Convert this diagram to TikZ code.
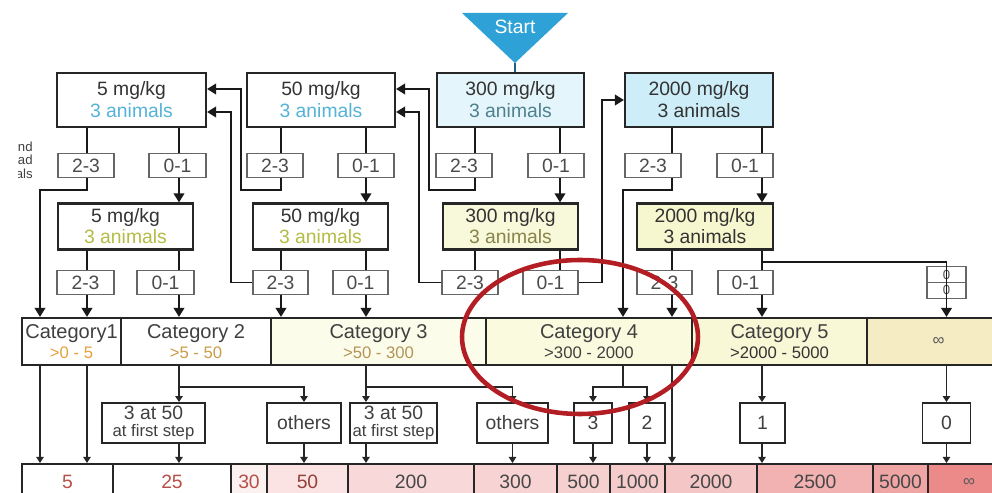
\documentclass[tikz,border=0pt]{standalone}
\usepackage{fontspec}
\setmainfont{Liberation Sans}
\usetikzlibrary{arrows.meta,shapes.multipart}
\definecolor{startblue}{HTML}{2EA2D6}
\definecolor{animblue}{HTML}{55B3D6}
\definecolor{animteal}{HTML}{4E808E}
\definecolor{animolive}{HTML}{B3BD45}
\definecolor{animkhaki}{HTML}{86854A}
\definecolor{lvlcyan}{HTML}{E4F6FB}
\definecolor{lvlblue}{HTML}{CDEDF8}
\definecolor{lvlcream}{HTML}{F8F8DB}
\definecolor{lvlyellow}{HTML}{F7F7CF}
\definecolor{catA}{HTML}{FCFCEA}
\definecolor{catB}{HTML}{FAFADF}
\definecolor{catC}{HTML}{F8F7D6}
\definecolor{catD}{HTML}{F6ECC3}
\definecolor{rngA}{HTML}{E3A23C}
\definecolor{rngB}{HTML}{C99C48}
\definecolor{rngC}{HTML}{B39458}
\definecolor{ldtext}{HTML}{B8504A}
\definecolor{ldA}{HTML}{FCF1F1}
\definecolor{ldB}{HTML}{FBE3E3}
\definecolor{ldC}{HTML}{F8D8D8}
\definecolor{ldD}{HTML}{F7D3D3}
\definecolor{ldE}{HTML}{F6CFCF}
\definecolor{ldF}{HTML}{F5CBCB}
\definecolor{ldG}{HTML}{F5C6C6}
\definecolor{ldH}{HTML}{F2B2B2}
\definecolor{ldI}{HTML}{F0A5A5}
\definecolor{ldJ}{HTML}{EC8A8A}
\definecolor{ringred}{HTML}{B31E24}
\tikzset{
  dose/.style={draw=black!85, line width=1.2pt, fill=white, inner sep=0pt,
    minimum height=1.08cm, align=center, text=black!80,
    font=\fontsize{11}{12.5}\selectfont},
  dosetwo/.style={dose, minimum height=0.92cm, font=\fontsize{11}{12}\selectfont},
  outcome/.style={draw=black!60, line width=0.6pt, fill=white, inner sep=0pt,
    minimum width=1.12cm, minimum height=0.48cm, text=black!70,
    font=\fontsize{11}{12}\selectfont},
  catcell/.style={draw=black!85, line width=1.2pt, inner sep=0pt,
    minimum height=0.94cm, align=center, text=black!75,
    font=\fontsize{11.4}{11.6}\selectfont},
  stepbox/.style={draw=black!85, line width=1.1pt, fill=white, inner sep=0pt,
    minimum height=0.8cm, align=center, text=black!75,
    font=\fontsize{11}{10}\selectfont},
  ldcell/.style={draw=black!85, line width=1.2pt, inner sep=0pt,
    minimum height=0.72cm, text=black!72, font=\fontsize{11}{12}\selectfont},
  link/.style={line width=1.1pt, draw=black!90},
  linkarr/.style={link, -{Triangle[length=0.18cm,width=0.21cm]}},
  thinarr/.style={line width=0.7pt, draw=black!85, -{Triangle[length=0.12cm,width=0.15cm]}},
  highlight/.style={draw=ringred, line width=2.6pt},
}
\newcommand{\rng}[2]{{\fontsize{9.5}{10}\selectfont\color{#1}#2}}
\begin{document}
\begin{tikzpicture}[x=0.02cm,y=-0.02cm]
  \useasboundingbox (0,0) rectangle (992,493);
  \clip (0,0) rectangle (992,493);
  % columns of the vertical links
  \coordinate (col1) at (40,0);
  \coordinate (col5a) at (87,0);
  \coordinate (col5b) at (179,0);
  \coordinate (col50a) at (281,0);
  \coordinate (col50b) at (366,0);
  \coordinate (col300a) at (475,0);
  \coordinate (col300b) at (560,0);
  \coordinate (col2kL) at (623,0);
  \coordinate (col2ka) at (672,0);
  \coordinate (col2kb) at (762,0);

  % start
  \fill[startblue] (462,13) -- (568,13) -- (515,63) -- cycle;
  \coordinate (tip) at (515,63);
  \node[text=white, font=\fontsize{11}{12}\selectfont] (start) at (515,27) {Start};
  \begin{scope}
    \clip (18,130) rectangle (40,190);
    \node[anchor=east, align=right, text=black!75, inner sep=0pt, font=\fontsize{7.5}{7.7}\selectfont] (note) at (33,160) {nd\\ad\\als};
  \end{scope}

  % first step
  \node[dose, minimum width=2.98cm] (d5) at (131.5,100) {5 mg/kg\\\textcolor{animblue}{3 animals}};
  \node[dose, minimum width=2.96cm] (d50) at (321,100) {50 mg/kg\\\textcolor{animblue}{3 animals}};
  \node[dose, minimum width=2.94cm, fill=lvlcyan] (d300) at (510.5,100) {300 mg/kg\\\textcolor{animteal}{3 animals}};
  \node[dose, minimum width=2.96cm, fill=lvlblue] (d2000) at (699,100) {2000 mg/kg\\3 animals};
  \node[outcome] (a5) at (86,165.5) {2-3};
  \node[outcome, minimum width=1.14cm] (b5) at (177.5,165.5) {0-1};
  \node[outcome] (a50) at (275,165.5) {2-3};
  \node[outcome] (b50) at (366,165.5) {0-1};
  \node[outcome] (a300) at (464,165.5) {2-3};
  \node[outcome] (b300) at (556,165.5) {0-1};
  \node[outcome] (a2000) at (653,165.5) {2-3};
  \node[outcome] (b2000) at (745,165.5) {0-1};

  % second step
  \node[dosetwo, minimum width=2.7cm] (e5) at (125.5,226.5) {5 mg/kg\\\textcolor{animolive}{3 animals}};
  \node[dosetwo, minimum width=2.7cm] (e50) at (320.5,226.5) {50 mg/kg\\\textcolor{animolive}{3 animals}};
  \node[dosetwo, minimum width=2.7cm, fill=lvlcream] (e300) at (510.5,226.5) {300 mg/kg\\\textcolor{animkhaki}{3 animals}};
  \node[dosetwo, minimum width=2.72cm, fill=lvlyellow] (e2000) at (705,226.5) {2000 mg/kg\\3 animals};
  \node[outcome, minimum width=1.14cm] (f5a) at (85.5,282.5) {2-3};
  \node[outcome, minimum width=1.14cm] (f5b) at (165.5,282.5) {0-1};
  \node[outcome, minimum width=1.1cm] (f50a) at (280.5,282.5) {2-3};
  \node[outcome, minimum width=1.1cm] (f50b) at (360.5,282.5) {0-1};
  \node[outcome] (f300a) at (470,282.5) {2-3};
  \node[outcome, minimum width=1.1cm] (f300b) at (550.5,282.5) {0-1};
  \node[outcome, minimum width=1.1cm] (f2000a) at (664.5,282.5) {2-3};
  \node[outcome, minimum width=1.1cm] (f2000b) at (745.5,282.5) {0-1};
  \node[rectangle split, rectangle split parts=2, draw=black!60, line width=0.6pt,
    inner xsep=0pt, inner ysep=1.5pt, minimum width=0.78cm, text=black!70,
    font=\fontsize{7.5}{7.5}\selectfont] (f0) at (946.5,282.5) {0\nodepart{two}0};

  % categories
  \node[catcell, minimum width=1.98cm, fill=white] (c1) at (71.5,341.5) {Category1\\\rng{rngA}{>0 - 5}};
  \node[catcell, minimum width=3cm, fill=white] (c2) at (196,341.5) {Category 2\\\rng{rngB}{>5 - 50}};
  \node[catcell, minimum width=4.3cm, fill=catA] (c3) at (378.5,341.5) {Category 3\\\rng{rngC}{>50 - 300}};
  \node[catcell, minimum width=4.12cm, fill=catB] (c4) at (589,341.5) {Category 4\\\rng{black!75}{>300 - 2000}};
  \node[catcell, minimum width=3.5cm, fill=catC] (c5) at (779.5,341.5) {Category 5\\\rng{black!80}{>2000 - 5000}};
  \node[catcell, minimum width=2.86cm, fill=catD] (cinf) at (938.5,341.5) {\rng{black!65}{∞}};

  % deaths
  \node[stepbox, minimum width=2.06cm] (g1) at (153.5,423) {3 at 50\\{\fontsize{9.5}{9.5}\selectfont at first step}};
  \node[stepbox, minimum width=1.48cm] (g2) at (304,423) {others};
  \node[stepbox, minimum width=1.74cm] (g3) at (393.5,423) {3 at 50\\{\fontsize{9.5}{9.5}\selectfont at first step}};
  \node[stepbox, minimum width=1.42cm] (g4) at (512.5,423) {others};
  \node[stepbox, minimum width=0.76cm] (g5) at (593,423) {3};
  \node[stepbox, minimum width=0.72cm] (g6) at (647,423) {2};
  \node[stepbox, minimum width=0.9cm] (g7) at (762.5,423) {1};
  \node[stepbox, minimum width=0.96cm] (g8) at (946.5,423) {0};

  % LD50 cut-offs
  \node[ldcell, minimum width=1.82cm, fill=white, text=ldtext] (r5) at (67.5,482) {5};
  \node[ldcell, minimum width=2.36cm, fill=white, text=ldtext] (r25) at (172,482) {25};
  \node[ldcell, minimum width=0.72cm, fill=ldA, text=ldtext] (r30) at (249,482) {30};
  \node[ldcell, minimum width=1.62cm, fill=ldB, text=ldtext!80!black] (r50) at (307.5,482) {50};
  \node[ldcell, minimum width=2.52cm, fill=ldC] (r200) at (411,482) {200};
  \node[ldcell, minimum width=1.66cm, fill=ldD] (r300) at (515.5,482) {300};
  \node[ldcell, minimum width=1.06cm, fill=ldE] (r500) at (583.5,482) {500};
  \node[ldcell, minimum width=1.1cm, fill=ldF] (r1000) at (637.5,482) {1000};
  \node[ldcell, minimum width=1.84cm, fill=ldG] (r2000) at (711,482) {2000};
  \node[ldcell, minimum width=2.32cm, fill=ldH] (r2500) at (815,482) {2500};
  \node[ldcell, minimum width=1.1cm, fill=ldI] (r5000) at (900.5,482) {5000};
  \node[ldcell, minimum width=1.64cm, fill=ldJ] (rinf) at (969,482) {\rng{black!65}{∞}};

  % 5 mg/kg
  \draw[link] (d5.south -| col5a) -- (a5.north -| col5a);
  \draw[link] (d5.south -| col5b) -- (b5.north -| col5b);
  \draw[linkarr] (b5.south -| col5b) -- (e5.north -| col5b);
  \draw[linkarr] (a5.south -| col5a) -- ++(0,12) -| (c1.north -| col1);
  \draw[link] (e5.south -| col5a) -- (f5a.north -| col5a);
  \draw[link] (e5.south -| col5b) -- (f5b.north -| col5b);
  \draw[linkarr] (f5a.south -| col5a) -- (c1.north -| col5a);
  \draw[linkarr] (f5b.south -| col5b) -- (c2.north -| col5b);
  % 50 mg/kg
  \draw[link] (d50.south -| col50a) -- (a50.north -| col50a);
  \draw[link] (d50.south -| col50b) -- (b50.north -| col50b);
  \draw[linkarr] (b50.south -| col50b) -- (e50.north -| col50b);
  \draw[linkarr] (a50.south -| col50a) -- ++(0,12) -| ([xshift=.68cm,yshift=.22cm]d5.east) -- ([yshift=.22cm]d5.east);
  \draw[linkarr] (f50a.west) -| ([xshift=.48cm,yshift=-.24cm]d5.east) -- ([yshift=-.24cm]d5.east);
  \draw[link] (e50.south -| col50a) -- (f50a.north -| col50a);
  \draw[link] (e50.south -| col50b) -- (f50b.north -| col50b);
  \draw[linkarr] (f50a.south -| col50a) -- (c3.north -| col50a);
  \draw[linkarr] (f50b.south -| col50b) -- (c3.north -| col50b);
  % 300 mg/kg
  \draw[link, draw=startblue!60!black] (tip) -- (d300.north -| tip);
  \draw[link] (d300.south -| col300a) -- (a300.north -| col300a);
  \draw[link] (d300.south -| col300b) -- (b300.north -| col300b);
  \draw[linkarr] (b300.south -| col300b) -- (e300.north -| col300b);
  \draw[linkarr] (a300.south -| col300a) -- ++(0,12) -| ([xshift=.66cm,yshift=.22cm]d50.east) -- ([yshift=.22cm]d50.east);
  \draw[linkarr] (f300a.west) -| ([xshift=.46cm,yshift=-.24cm]d50.east) -- ([yshift=-.24cm]d50.east);
  \draw[link] (e300.south -| col300a) -- (f300a.north -| col300a);
  \draw[link] (e300.south -| col300b) -- (f300b.north -| col300b);
  \draw[linkarr] (f300b.east) -| ([xshift=-.44cm]d2000.west) -- (d2000.west);
  % 2000 mg/kg
  \draw[link] (d2000.south -| col2ka) -- (a2000.north -| col2ka);
  \draw[link] (d2000.south -| col2kb) -- (b2000.north -| col2kb);
  \draw[linkarr] (b2000.south -| col2kb) -- (e2000.north -| col2kb);
  \draw[linkarr] (a2000.south -| col2ka) -- ++(0,12) -| (c4.north -| col2kL);
  \draw[link] (e2000.south -| col2ka) -- (f2000a.north -| col2ka);
  \draw[link] (e2000.south -| col2kb) -- (f2000b.north -| col2kb);
  \draw[linkarr] (f2000a.south -| col2ka) -- (c4.north -| col2ka);
  \draw[linkarr] (f2000b.south -| col2kb) -- (c5.north -| col2kb);
  \draw[linkarr] (e2000.south -| col2kb) -- ++(0,11) -| (cinf.north -| f0);

  % categories to LD50
  \draw[thinarr] (c1.south -| col1) -- (r5.north -| col1);
  \draw[thinarr] (c1.south -| col5a) -- (r5.north -| col5a);
  \draw[thinarr] (c2.south -| col5b) -- (g1.north -| col5b);
  \draw[thinarr] (c2.south -| col5b) -- ++(0,21) -| (g2.north);
  \draw[thinarr] (g1.south -| col5b) -- (r25.north -| col5b);
  \draw[thinarr] (g2.south) -- (r50.north -| g2);
  \draw[thinarr] (c3.south -| col50b) -- (g3.north -| col50b);
  \draw[thinarr] (c3.south -| col50b) -- ++(0,21) -| (g4.north);
  \draw[thinarr] (g3.south -| col50b) -- (r200.north -| col50b);
  \draw[thinarr] (g4.south) -- (r300.north -| g4);
  \draw[thinarr] (c4.south -| col2kL) -- ++(0,21) -| (g5.north);
  \draw[thinarr] (c4.south -| col2kL) -- ++(0,21) -| (g6.north);
  \draw[thinarr] (g5.south) -- (r500.north -| g5);
  \draw[thinarr] (g6.south) -- (r1000.north -| g6);
  \draw[thinarr] (c4.south -| col2ka) -- (r2000.north -| col2ka);
  \draw[thinarr] (c5.south -| col2kb) -- (g7.north -| col2kb);
  \draw[thinarr] (g7.south -| col2kb) -- (r2500.north -| col2kb);
  \draw[thinarr] (cinf.south -| f0) -- (g8.north -| f0);
  \draw[thinarr] (g8.south -| f0) -- (rinf.north -| f0);

  \draw[highlight] (580,337) ellipse [x radius=2.36cm, y radius=1.54cm];
\end{tikzpicture}
\end{document}
